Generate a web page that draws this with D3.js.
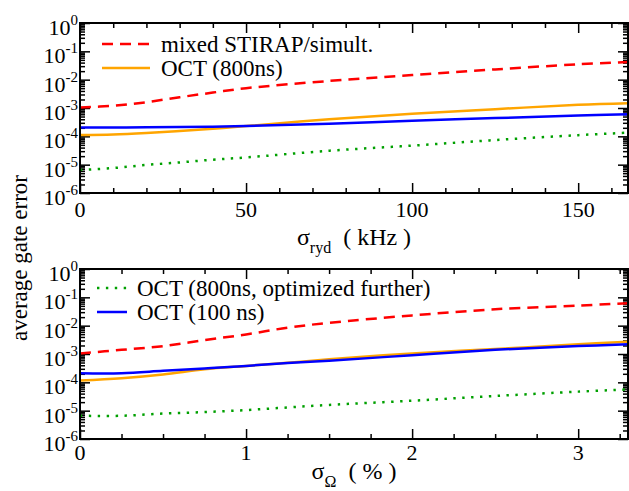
<!DOCTYPE html>
<html>
<head>
<meta charset="utf-8">
<script src="https://cdn.jsdelivr.net/npm/d3@7"></script>
<style>
  body { margin: 0; background: #fff; }
  svg { display: block; }
  .tick line { stroke: #000; stroke-width: 1.5; }
</style>
</head>
<body>
<svg id="chart" width="629" height="491"></svg>
<script>
// top panel: detuning noise sigma_ryd in kHz
let kHz = [0, 10, 20, 30, 40, 50, 75, 100, 125, 150, 165]
let topStirap = [1.05e-3, 1.2e-3, 1.6e-3, 2.4e-3, 3.5e-3, 5.0e-3, 9.0e-3, 1.45e-2, 2.3e-2, 3.5e-2, 4.2e-2]
let topOct800 = [1.12e-4, 1.17e-4, 1.32e-4, 1.55e-4, 1.86e-4, 2.3e-4, 4.0e-4, 6.3e-4, 9.1e-4, 1.29e-3, 1.48e-3]
let topOct100 = [2.05e-4, 2.05e-4, 2.1e-4, 2.15e-4, 2.2e-4, 2.3e-4, 2.8e-4, 3.55e-4, 4.4e-4, 5.4e-4, 6.0e-4]
let topOctFurther = [6.5e-6, 7.6e-6, 9.8e-6, 1.2e-5, 1.5e-5, 1.8e-5, 3.1e-5, 4.7e-5, 7.4e-5, 1.1e-4, 1.35e-4]

// bottom panel: Rabi amplitude noise sigma_Omega in %
let percent = [0, 0.25, 0.5, 0.75, 1, 1.25, 1.5, 2, 2.5, 3, 3.3]
let botStirap = [1.05e-3, 1.4e-3, 1.9e-3, 3.1e-3, 4.9e-3, 8.5e-3, 1.26e-2, 2.3e-2, 3.8e-2, 5.1e-2, 6.2e-2]
let botOct800 = [1.15e-4, 1.4e-4, 1.9e-4, 2.9e-4, 3.8e-4, 4.9e-4, 6.5e-4, 1.05e-3, 1.5e-3, 2.2e-3, 2.7e-3]
let botOct100 = [2.1e-4, 2.1e-4, 2.55e-4, 3.1e-4, 3.8e-4, 4.8e-4, 5.75e-4, 9.1e-4, 1.4e-3, 1.9e-3, 2.2e-3]
let botOctFurther = [6.6e-6, 6.6e-6, 7.9e-6, 8.9e-6, 1.05e-5, 1.3e-5, 1.6e-5, 2.25e-5, 3.3e-5, 4.7e-5, 5.6e-5]

let decades = [-6, -5, -4, -3, -2, -1, 0]
let topTicks = [0, 50, 100, 150]
let botTicks = [0, 1, 2, 3]

let seriesNames = ['mixed STIRAP/simult.', 'OCT (800ns)', 'OCT (800ns, optimized further)', 'OCT (100 ns)']

const svg = d3.select('#chart')
const left = 80, right = 628

// pick the first serif face that the browser really has
const pickSerif = () => {
    let ctx = document.createElement('canvas').getContext('2d')
    let probe = 'average gate error 0123456789 mixed STIRAP'
    let width = f => { ctx.font = `40px ${f}`; return ctx.measureText(probe).width }
    let base = width('monospace')
    let names = ['Liberation Serif', 'Tinos', 'Times New Roman', 'Times', 'DejaVu Serif', 'Noto Serif', 'FreeSerif', 'Nimbus Roman', 'Nimbus Roman No9 L']
    for (let n of names) {
        if (width(`"${n}", monospace`) !== base) return `"${n}", serif`
    }
    return 'serif'
}
const serif = pickSerif()

const styles = {
    stirap: {color: '#ff0000', dash: '11,7'},
    oct800: {color: '#ffa500', dash: null},
    oct100: {color: '#0000ff', dash: null},
    further: {color: '#00a000', dash: '2.4,6.5'}
}

const drawPanel = (cfg) => {
    let x = d3.scaleLinear().domain([0, cfg.xmax]).range([left, right])
    let y = d3.scaleLog().domain([1e-6, 1]).range([cfg.bottom, cfg.top])
    let g = svg.append('g')

    // minor / major ticks, all pointing inward
    let yMinor = []
    decades.slice(0, -1).forEach(k => {
        for (let m = 2; m <= 9; m++) yMinor.push(m * Math.pow(10, k))
    })
    let yMajor = decades.map(k => Math.pow(10, k))

    g.append('g').attr('transform', `translate(${left},0)`)
        .call(d3.axisLeft(y).tickValues(yMajor).tickSize(-10).tickFormat(''))
    g.append('g').attr('transform', `translate(${left},0)`)
        .call(d3.axisLeft(y).tickValues(yMinor).tickSize(-5).tickFormat(''))
    g.append('g').attr('transform', `translate(${right},0)`)
        .call(d3.axisRight(y).tickValues(yMajor).tickSize(-10).tickFormat(''))
    g.append('g').attr('transform', `translate(${right},0)`)
        .call(d3.axisRight(y).tickValues(yMinor).tickSize(-5).tickFormat(''))

    g.append('g').attr('transform', `translate(0,${cfg.bottom})`)
        .call(d3.axisBottom(x).tickValues(cfg.major).tickSize(-10).tickFormat(''))
    g.append('g').attr('transform', `translate(0,${cfg.bottom})`)
        .call(d3.axisBottom(x).tickValues(cfg.minor).tickSize(-5).tickFormat(''))
    g.append('g').attr('transform', `translate(0,${cfg.top})`)
        .call(d3.axisTop(x).tickValues(cfg.major).tickSize(-10).tickFormat(''))
    g.append('g').attr('transform', `translate(0,${cfg.top})`)
        .call(d3.axisTop(x).tickValues(cfg.minor).tickSize(-5).tickFormat(''))
    g.selectAll('.domain').remove()

    // tick labels
    decades.forEach(k => {
        let t = g.append('text')
            .attr('x', left - 2)
            .attr('y', y(Math.pow(10, k)) + 12)
            .attr('text-anchor', 'end')
            .style('font-family', serif)
            .attr('font-size', 22)
        t.append('tspan').text('10')
        t.append('tspan').attr('dy', -10).attr('font-size', 15).text(k)
    })
    cfg.major.forEach(v => {
        g.append('text')
            .attr('x', x(v))
            .attr('y', cfg.bottom + cfg.labelGap)
            .attr('text-anchor', 'middle')
            .style('font-family', serif)
            .attr('font-size', 22)
            .text(v)
    })

    // curves
    let line = d3.line()
        .x((d, i) => x(cfg.xs[i]))
        .y(d => y(d))
        .curve(d3.curveCatmullRom.alpha(0.5))
    cfg.series.forEach(s => {
        let st = styles[s.key]
        g.append('path')
            .attr('d', line(s.values))
            .attr('fill', 'none')
            .attr('stroke', st.color)
            .attr('stroke-width', 2.5)
            .attr('stroke-dasharray', st.dash)
    })

    // frame
    g.append('rect')
        .attr('x', left).attr('y', cfg.top)
        .attr('width', right - left).attr('height', cfg.bottom - cfg.top)
        .attr('fill', 'none').attr('stroke', '#000').attr('stroke-width', 2)

    // legend
    cfg.legend.forEach((item, i) => {
        let st = styles[item.key]
        let ly = cfg.legendY + i * 24
        g.append('line')
            .attr('x1', cfg.legendX1).attr('x2', cfg.legendX2)
            .attr('y1', ly).attr('y2', ly)
            .attr('stroke', st.color).attr('stroke-width', 2.5)
            .attr('stroke-dasharray', st.dash)
        g.append('text')
            .attr('x', cfg.legendText)
            .attr('y', ly + 8)
            .style('font-family', serif)
            .attr('font-size', 23)
            .text(item.name)
    })

    // x title
    let title = g.append('text')
        .attr('x', (left + right) / 2)
        .attr('y', cfg.titleY)
        .attr('text-anchor', 'middle')
        .style('font-family', serif)
        .attr('font-size', 24)
        .style('white-space', 'pre')
    title.append('tspan').text('σ')
    title.append('tspan').attr('dy', 8).attr('font-size', 16).text(cfg.sub)
    title.append('tspan').attr('dy', -8).text('  ( ' + cfg.unit + ' )')
}

drawPanel({
    top: 23, bottom: 193, xmax: 165, labelGap: 24, titleY: 245,
    major: topTicks, minor: d3.range(10, 165, 10).filter(v => v % 50 !== 0),
    xs: kHz, sub: 'ryd', unit: 'kHz',
    series: [
        {key: 'stirap', values: topStirap},
        {key: 'oct800', values: topOct800},
        {key: 'oct100', values: topOct100},
        {key: 'further', values: topOctFurther}
    ],
    legend: [{key: 'stirap', name: seriesNames[0]}, {key: 'oct800', name: seriesNames[1]}],
    legendY: 44, legendX1: 102, legendX2: 150, legendText: 161
})

drawPanel({
    top: 269, bottom: 439, xmax: 3.3, labelGap: 21, titleY: 479,
    major: botTicks, minor: d3.range(0.25, 3.3, 0.25).filter(v => v % 1 !== 0),
    xs: percent, sub: 'Ω', unit: '%',
    series: [
        {key: 'stirap', values: botStirap},
        {key: 'oct800', values: botOct800},
        {key: 'oct100', values: botOct100},
        {key: 'further', values: botOctFurther}
    ],
    legend: [{key: 'further', name: seriesNames[2]}, {key: 'oct100', name: seriesNames[3]}],
    legendY: 288, legendX1: 97, legendX2: 127, legendText: 137
})

svg.append('text')
    .attr('transform', 'translate(27,258) rotate(-90)')
    .attr('text-anchor', 'middle')
    .style('font-family', serif)
    .attr('font-size', 23)
    .text('average gate error')
</script>
</body>
</html>
